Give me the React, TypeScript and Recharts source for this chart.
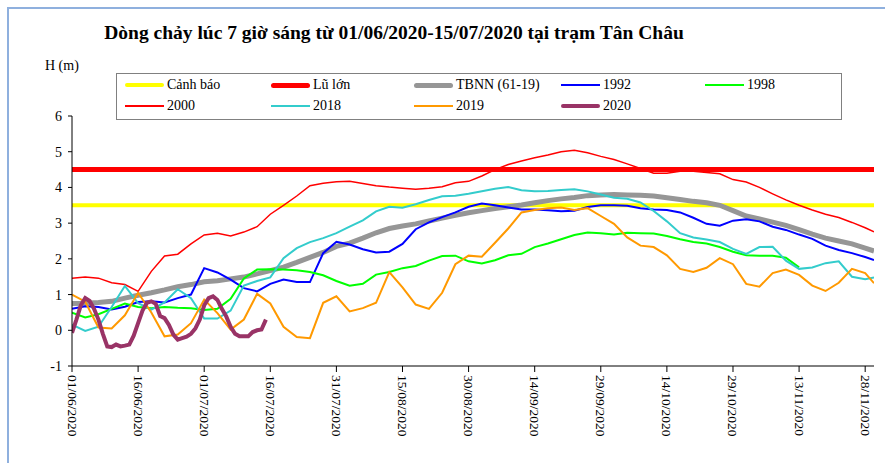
import { LineChart, Line, XAxis, YAxis } from 'recharts';

const FONT = '"Liberation Serif", "Times New Roman", serif';

// day index counted from 01/06/2020, sampled every 3 days
const days = [
  0, 3, 6, 9, 12, 15, 18, 21, 24, 27,
  30, 33, 36, 39, 42, 45, 48, 51, 54, 57,
  60, 63, 66, 69, 72, 75, 78, 81, 84, 87,
  90, 93, 96, 99, 102, 105, 108, 111, 114, 117,
  120, 123, 126, 129, 132, 135, 138, 141, 144, 147,
  150, 153, 156, 159, 162, 165, 168, 171, 174, 177,
  180, 182,
];

const tickDays = [0, 15, 30, 45, 60, 75, 90, 105, 120, 135, 150, 165, 180];
const tickLabels = [
  '01/06/2020', '16/06/2020', '01/07/2020', '16/07/2020', '31/07/2020', '15/08/2020', '30/08/2020',
  '14/09/2020', '29/09/2020', '14/10/2020', '29/10/2020', '13/11/2020', '28/11/2020',
];

const canhBao = 3.5;
const luLon = 4.5;

const tbnn = [
  0.75, 0.76, 0.78, 0.81, 0.9, 0.98, 1.05, 1.13, 1.22, 1.28,
  1.36, 1.39, 1.44, 1.49, 1.58, 1.67, 1.77, 1.9, 2.04, 2.18,
  2.35, 2.44, 2.58, 2.73, 2.85, 2.92, 2.98, 3.06, 3.14, 3.22,
  3.29, 3.35, 3.41, 3.46, 3.51, 3.57, 3.63, 3.68, 3.72, 3.77,
  3.79, 3.8, 3.79, 3.78, 3.76, 3.71, 3.66, 3.61, 3.57, 3.5,
  3.35, 3.2, 3.12, 3.03, 2.94, 2.82, 2.69, 2.58, 2.5, 2.42,
  2.3, 2.22,
];

const y1992 = [
  0.6, 0.67, 0.65, 0.58, 0.66, 0.79, 0.81, 0.78, 0.9, 1.0,
  1.74, 1.62, 1.42, 1.18, 1.09, 1.3, 1.42, 1.35, 1.35, 2.16,
  2.48, 2.4, 2.27, 2.18, 2.2, 2.42, 2.83, 3.02, 3.17, 3.3,
  3.46, 3.55, 3.5, 3.44, 3.38, 3.38, 3.36, 3.33, 3.35, 3.45,
  3.5, 3.5, 3.49, 3.42, 3.38, 3.37, 3.3, 3.15, 2.98, 2.93,
  3.07, 3.11, 3.05, 2.9, 2.81, 2.68, 2.56, 2.37, 2.25, 2.16,
  2.05, 1.97,
];

// 1998 stops at 16/11
const y1998 = [
  0.49, 0.36, 0.45, 0.6, 0.75, 0.65, 0.62, 0.65, 0.63, 0.62,
  0.57, 0.6, 0.88, 1.45, 1.7, 1.71, 1.7, 1.68, 1.63, 1.54,
  1.38, 1.25, 1.3, 1.56, 1.63, 1.74, 1.8, 1.95, 2.08, 2.09,
  1.93, 1.87, 1.96, 2.1, 2.14, 2.33, 2.43, 2.55, 2.67, 2.74,
  2.72, 2.68, 2.73, 2.72, 2.71, 2.64, 2.55, 2.47, 2.43, 2.33,
  2.2, 2.1, 2.09, 2.09, 2.03, 1.76,
];

const y2000 = [
  1.46, 1.49, 1.46, 1.33, 1.28, 1.09, 1.65, 2.08, 2.13, 2.42,
  2.67, 2.72, 2.64, 2.75, 2.9, 3.25, 3.5, 3.76, 4.05, 4.12,
  4.16, 4.17, 4.11, 4.05, 4.01, 3.98, 3.95, 3.98, 4.02, 4.13,
  4.17, 4.32, 4.5, 4.64, 4.74, 4.83, 4.91, 5.0, 5.04, 4.97,
  4.87, 4.78, 4.66, 4.53, 4.4, 4.4, 4.45, 4.45, 4.42, 4.38,
  4.22, 4.15, 4.0, 3.82, 3.65, 3.5, 3.37, 3.25, 3.16, 3.02,
  2.87, 2.76,
];

const y2018 = [
  0.16, -0.02, 0.1, 0.65, 1.24, 0.76, 0.58, 0.78, 1.15, 0.9,
  0.33, 0.33, 0.55, 1.25, 1.38, 1.48, 2.02, 2.3, 2.47, 2.58,
  2.72, 2.9, 3.08, 3.33, 3.46, 3.43, 3.53, 3.65, 3.75, 3.77,
  3.82, 3.89, 3.96, 4.01, 3.92, 3.89, 3.9, 3.93, 3.95, 3.89,
  3.8, 3.71, 3.68, 3.58, 3.34, 3.05, 2.72, 2.6, 2.54, 2.47,
  2.28, 2.14, 2.33, 2.34, 1.95, 1.72, 1.76, 1.88, 1.93, 1.5,
  1.43, 1.48,
];

const y2019 = [
  1.0, 0.8, 0.08, 0.05, 0.42, 1.05, 0.5, -0.17, -0.12, 0.2,
  0.86, 0.48, 0.02, 0.3, 1.02, 0.75, 0.1, -0.19, -0.22, 0.77,
  0.95, 0.53, 0.62, 0.77, 1.63, 1.2, 0.72, 0.6, 1.05, 1.85,
  2.09, 2.06, 2.45, 2.85, 3.3, 3.37, 3.42, 3.44, 3.37, 3.42,
  3.2, 2.98, 2.6, 2.37, 2.33, 2.1, 1.72, 1.63, 1.75, 2.02,
  1.85, 1.3, 1.22, 1.6, 1.7, 1.55, 1.25, 1.1, 1.33, 1.72,
  1.6, 1.32,
];

// 2020 is daily, 01/06 -> 15/07
const days2020 = [
  0, 1, 2, 3, 4, 5, 6, 7, 8, 9,
  10, 11, 12, 13, 14, 15, 16, 17, 18, 19,
  20, 21, 22, 23, 24, 25, 26, 27, 28, 29,
  30, 31, 32, 33, 34, 35, 36, 37, 38, 39,
  40, 41, 42, 43, 44,
];
const y2020 = [
  -0.07, 0.3, 0.7, 0.9, 0.82, 0.6, 0.3, -0.1, -0.45, -0.47,
  -0.4, -0.45, -0.43, -0.4, -0.15, 0.2, 0.55, 0.77, 0.81, 0.74,
  0.4, 0.34, 0.15, -0.12, -0.26, -0.22, -0.18, -0.1, 0.05, 0.3,
  0.7, 0.9, 0.95, 0.85, 0.6, 0.39, 0.1, -0.1, -0.17, -0.17,
  -0.17, -0.05, 0.0, 0.02, 0.3,
];

const toPoints = (xs: number[], ys: number[]) => ys.map((v, i) => ({ day: xs[i], value: v }));
const flat = (v: number) => [{ day: days[0], value: v }, { day: days[days.length - 1], value: v }];

const series = [
  { name: 'Cảnh báo', color: '#FFFF00', width: 4, data: flat(canhBao) },
  { name: 'Lũ lớn', color: '#FF0000', width: 5, data: flat(luLon) },
  { name: 'TBNN (61-19)', color: '#969696', width: 5, data: toPoints(days, tbnn) },
  { name: '1992', color: '#0000FF', width: 2, data: toPoints(days, y1992) },
  { name: '1998', color: '#00FF00', width: 2, data: toPoints(days, y1998) },
  { name: '2000', color: '#FF0000', width: 1.5, data: toPoints(days, y2000) },
  { name: '2018', color: '#33CCCC', width: 2, data: toPoints(days, y2018) },
  { name: '2019', color: '#FF9900', width: 2, data: toPoints(days, y2019) },
  { name: '2020', color: '#993366', width: 4, data: toPoints(days2020, y2020) },
];

// legend layout: 5 columns x 2 rows
const legendCols = [125, 271, 414, 561, 705];

const DateTick = (props: any) => {
  const { x, y, payload } = props;
  const label = tickLabels[tickDays.indexOf(payload.value)];
  return (
    <text
      transform={`translate(${x},${y + 1}) rotate(90)`}
      textAnchor="start"
      dominantBaseline="central"
      fontSize={13.5}
      fontFamily={FONT}
      fill="#000"
    >
      {label}
    </text>
  );
};

export default function App() {
  return (
    <div style={{ position: 'fixed', left: 0, top: 0, width: 885, height: 463, background: '#fff', overflow: 'hidden', fontFamily: FONT }}>
      <div style={{ position: 'absolute', left: 7, top: 7, width: 900, height: 500, border: '2px solid #8FB0DE' }} />
      <div style={{ position: 'absolute', left: 0, width: 788, top: 22, textAlign: 'center', fontSize: 19.5, fontWeight: 'bold', color: '#000', whiteSpace: 'nowrap' }}>
        Dòng chảy lúc 7 giờ sáng từ 01/06/2020-15/07/2020 tại trạm Tân Châu
      </div>
      <div style={{ position: 'absolute', left: 45, top: 58, fontSize: 14, color: '#000' }}>H (m)</div>

      <LineChart width={885} height={463} margin={{ top: 116, right: 11, bottom: 0, left: 0 }} style={{ position: 'absolute', left: 0, top: 0 }}>
        <XAxis
          dataKey="day"
          type="number"
          domain={[0, 182]}
          ticks={tickDays}
          interval={0}
          height={97}
          tickSize={6}
          tickMargin={2}
          tick={<DateTick />}
          stroke="#000"
          allowDataOverflow
        />
        <YAxis
          type="number"
          domain={[-1, 6]}
          ticks={[-1, 0, 1, 2, 3, 4, 5, 6]}
          width={72}
          tickSize={4}
          tickMargin={6}
          stroke="#000"
          tick={{ fontSize: 14, fontFamily: FONT, fill: '#000' }}
          allowDataOverflow
        />
        {series.map((s) => (
          <Line
            key={s.name}
            data={s.data}
            dataKey="value"
            name={s.name}
            type="linear"
            stroke={s.color}
            strokeWidth={s.width}
            dot={false}
            activeDot={false}
            isAnimationActive={false}
          />
        ))}
      </LineChart>

      <div style={{ position: 'absolute', left: 116, top: 73, width: 724, height: 45, border: '1px solid #808080', background: '#fff' }} />
      {series.map((s, i) => {
        const col = legendCols[i % 5];
        const rowY = i < 5 ? 85 : 106;
        return (
          <div key={s.name}>
            <div style={{ position: 'absolute', left: col, top: rowY - s.width / 2, width: 39, height: s.width, background: s.color, borderRadius: s.width > 3 ? s.width / 2 : 0 }} />
            <div style={{ position: 'absolute', left: col + 42, top: rowY - 9, fontSize: 14, lineHeight: '18px', color: '#000', whiteSpace: 'nowrap' }}>{s.name}</div>
          </div>
        );
      })}
    </div>
  );
}
